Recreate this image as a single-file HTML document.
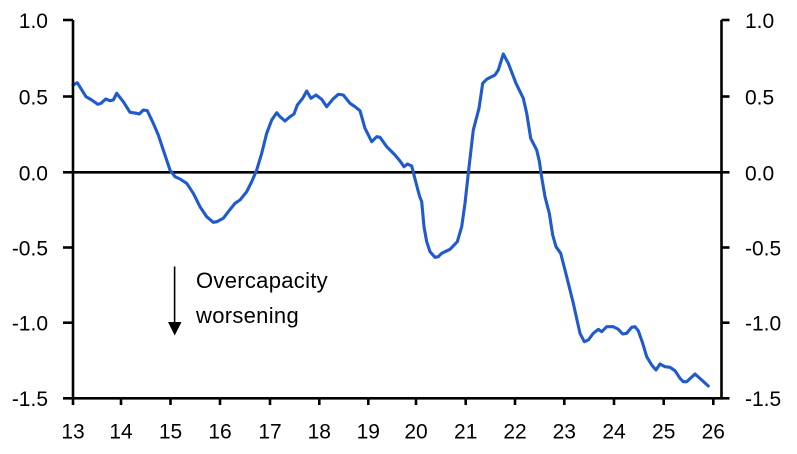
<!DOCTYPE html>
<html>
<head>
<meta charset="utf-8">
<style>
  html, body { margin: 0; padding: 0; background: #ffffff; }
  body { width: 797px; height: 454px; overflow: hidden; }
  svg { display: block; }
  text { font-family: "Liberation Sans", sans-serif; fill: #000; }
</style>
</head>
<body>
<svg width="797" height="454" viewBox="0 0 797 454" xmlns="http://www.w3.org/2000/svg">
  <!-- zero line -->
  <line x1="73" y1="172.3" x2="721.5" y2="172.3" stroke="#000" stroke-width="2.6"/>

  <!-- data series -->
  <polyline fill="none" stroke="#1f5acf" stroke-width="3.1" stroke-linejoin="round" stroke-linecap="round"
    points="73,85 77.3,82.7 86,96.7 91.7,100 97.7,104.3 101,103.3 105.7,99 110,100.7 113.3,100 116.7,93.3 123.3,101.7 130,112.3 136.7,113.3 139.3,114 143.3,110 147.3,110.7 153.3,123.3 158.3,135 163.3,150 170,170 175,176.7 180,179 186.7,183.3 193.3,193.3 200,206.7 206.7,216.7 213.3,222.3 216.7,221.7 223.3,218.3 228.3,211.7 235,203.3 240,200 246.7,191.7 251.7,181.7 256.7,170 261.7,153.3 266.7,133.3 271.7,120 276.7,112.7 280,116.7 285,121 290,116.7 294,114 297.3,105 302.7,98.3 306.7,91 311,98.3 316,95 321.7,99.3 326.7,106.7 332.7,99.3 338.3,94.3 343.3,95 350,103.3 355,106.7 360,110.7 365,128.3 371.7,141.7 376.7,136.7 380,137.3 386.7,146.7 395,155 400,161 404,166.7 407.5,164 411.7,166 415,179 419.5,196 421.7,201.7 424,226.7 426.7,241.7 430,251.7 435,257.3 438.3,256.7 441.7,253.3 450,249.3 457.3,241.7 461.7,226.7 465,203.3 468.3,173.3 471,150 473.3,130 479,108.3 482.7,83.3 486.7,79.3 495,75 498.3,70 503.3,54 508.3,63.3 516,83.3 523.3,98.3 526.7,113.3 530.7,138.3 536.7,150 539.5,162 541,173.3 545,196.7 549.3,213.3 552.7,235 556,246.7 560.7,253.3 566.7,276.7 573.3,303.3 580,333.3 584.3,341.7 588.3,340 593.3,333.3 598.3,329.3 601.7,331.7 606.7,326.7 613.3,326.7 618.3,329.3 622.7,334 626.7,333.3 631.7,327.3 635,326.7 638.3,330.7 642.7,343.3 646.7,356.7 651.7,365 656,370 660,364 665,366.7 670,367.3 675,370.7 680,378.3 683.3,381.7 686.7,381.7 695,374 701.7,380 708.3,386"/>

  <!-- axes -->
  <g stroke="#000" stroke-width="2.6" fill="none">
    <line x1="73" y1="20" x2="73" y2="399.5"/>
    <line x1="721.5" y1="20" x2="721.5" y2="399.5"/>
    <line x1="63" y1="398.3" x2="722.5" y2="398.3"/>
    <!-- left ticks -->
    <line x1="63" y1="20" x2="73" y2="20"/>
    <line x1="63" y1="96.5" x2="73" y2="96.5"/>
    <line x1="63" y1="172.3" x2="73" y2="172.3"/>
    <line x1="63" y1="247.5" x2="73" y2="247.5"/>
    <line x1="63" y1="322.7" x2="73" y2="322.7"/>
    <!-- right ticks -->
    <line x1="721.5" y1="20" x2="729.5" y2="20"/>
    <line x1="721.5" y1="96.5" x2="729.5" y2="96.5"/>
    <line x1="721.5" y1="172.3" x2="729.5" y2="172.3"/>
    <line x1="721.5" y1="247.5" x2="729.5" y2="247.5"/>
    <line x1="721.5" y1="322.7" x2="729.5" y2="322.7"/>
    <line x1="721.5" y1="398.3" x2="729.5" y2="398.3"/>
    <!-- bottom ticks -->
    <line x1="73" y1="398" x2="73" y2="405"/>
    <line x1="121" y1="398" x2="121" y2="405"/>
    <line x1="170.5" y1="398" x2="170.5" y2="405"/>
    <line x1="220" y1="398" x2="220" y2="405"/>
    <line x1="270" y1="398" x2="270" y2="405"/>
    <line x1="319.3" y1="398" x2="319.3" y2="405"/>
    <line x1="368.3" y1="398" x2="368.3" y2="405"/>
    <line x1="416" y1="398" x2="416" y2="405"/>
    <line x1="465.7" y1="398" x2="465.7" y2="405"/>
    <line x1="515" y1="398" x2="515" y2="405"/>
    <line x1="564.3" y1="398" x2="564.3" y2="405"/>
    <line x1="614" y1="398" x2="614" y2="405"/>
    <line x1="663.7" y1="398" x2="663.7" y2="405"/>
    <line x1="713.3" y1="398" x2="713.3" y2="405"/>
  </g>

  <!-- left labels -->
  <g font-size="21" text-anchor="end">
    <text x="48" y="28">1.0</text>
    <text x="48" y="104.5">0.5</text>
    <text x="48" y="180.3">0.0</text>
    <text x="48" y="255.5">-0.5</text>
    <text x="48" y="330.7">-1.0</text>
    <text x="48" y="406">-1.5</text>
  </g>

  <!-- right labels -->
  <g font-size="21" text-anchor="start">
    <text x="745" y="28">1.0</text>
    <text x="745" y="104.5">0.5</text>
    <text x="745" y="180.3">0.0</text>
    <text x="745" y="255.5">-0.5</text>
    <text x="745" y="330.7">-1.0</text>
    <text x="745" y="406">-1.5</text>
  </g>

  <!-- bottom labels -->
  <g font-size="21" text-anchor="middle">
    <text x="73" y="438.5">13</text>
    <text x="121" y="438.5">14</text>
    <text x="170.5" y="438.5">15</text>
    <text x="220" y="438.5">16</text>
    <text x="270" y="438.5">17</text>
    <text x="319.3" y="438.5">18</text>
    <text x="368.3" y="438.5">19</text>
    <text x="416" y="438.5">20</text>
    <text x="465.7" y="438.5">21</text>
    <text x="515" y="438.5">22</text>
    <text x="564.3" y="438.5">23</text>
    <text x="614" y="438.5">24</text>
    <text x="663.7" y="438.5">25</text>
    <text x="713.3" y="438.5">26</text>
  </g>

  <!-- annotation -->
  <line x1="174.6" y1="266.5" x2="174.6" y2="324" stroke="#000" stroke-width="1.6"/>
  <polygon points="168,322 181.5,322 174.7,335.5" fill="#000"/>
  <g font-size="22" letter-spacing="0.3">
    <text x="196" y="288">Overcapacity</text>
    <text x="196" y="323">worsening</text>
  </g>
</svg>
</body>
</html>
